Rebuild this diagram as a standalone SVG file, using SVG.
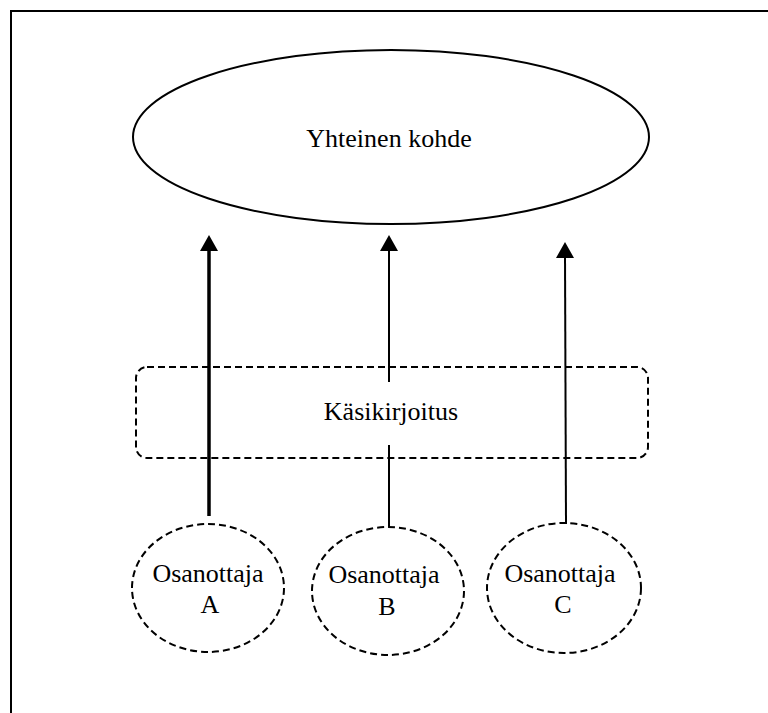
<svg xmlns="http://www.w3.org/2000/svg" width="768" height="713" viewBox="0 0 768 713">
  <style>
    .lbl { font-family: "Liberation Serif", "Times New Roman", serif; font-size: 26px; fill: #000; text-anchor: middle; }
    .solid { fill: none; stroke: #000; stroke-width: 2; }
    .dash { fill: none; stroke: #000; stroke-width: 2; stroke-dasharray: 7 4; }
    .conn { stroke: #000; stroke-width: 2; fill: none; }
    .head { fill: #000; }
  </style>
  <rect width="768" height="713" fill="#fff"/>
  <!-- outer frame -->
  <path d="M11 713 V11 H768" fill="none" stroke="#000" stroke-width="2"/>

  <g id="kohde">
    <ellipse class="solid" cx="391" cy="137" rx="258" ry="87"/>
    <text class="lbl" x="389" y="147">Yhteinen kohde</text>
  </g>

  <g id="kasikirjoitus">
    <rect class="dash" x="136" y="367" width="512" height="91" rx="11" ry="11"/>
    <text class="lbl" x="391" y="420">Käsikirjoitus</text>
  </g>

  <g id="osanottaja-a">
    <ellipse class="dash" cx="208" cy="588" rx="76" ry="64"/>
    <text class="lbl" x="208" y="582">Osanottaja</text>
    <text class="lbl" x="210" y="613">A</text>
  </g>

  <g id="osanottaja-b">
    <ellipse class="dash" cx="388" cy="591" rx="76" ry="64"/>
    <text class="lbl" x="384" y="583">Osanottaja</text>
    <text class="lbl" x="387" y="615">B</text>
  </g>

  <g id="osanottaja-c">
    <ellipse class="dash" cx="564" cy="588" rx="77" ry="65"/>
    <text class="lbl" x="560" y="582">Osanottaja</text>
    <text class="lbl" x="563" y="613">C</text>
  </g>

  <g id="connectors">
    <!-- A: heavy line -->
    <line x1="209" y1="516" x2="209" y2="248" stroke="#000" stroke-width="3.5"/>
    <polygon class="head" points="209,235 200,251 218,251"/>
    <!-- B: interrupted by the label -->
    <line class="conn" x1="389" y1="527" x2="389" y2="445"/>
    <line class="conn" x1="389" y1="382" x2="389" y2="248"/>
    <polygon class="head" points="389,235 380,251 398,251"/>
    <!-- C -->
    <line class="conn" x1="566" y1="524" x2="565" y2="255"/>
    <polygon class="head" points="565,242 556,258 574,258"/>
  </g>
</svg>
